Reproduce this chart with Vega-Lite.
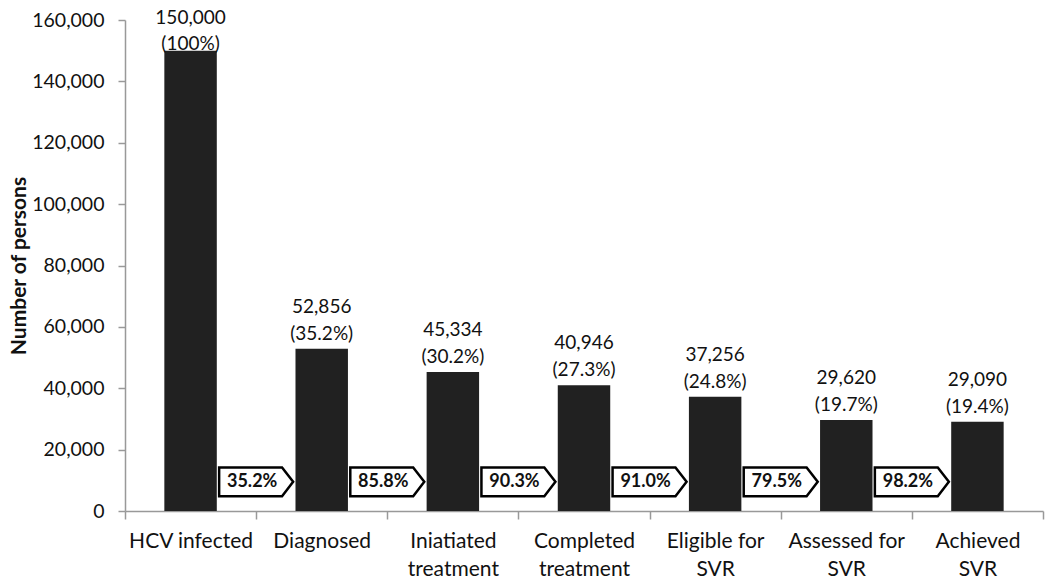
{
  "$schema": "https://vega.github.io/schema/vega-lite/v6.json",
  "autosize": "none",
  "width": 918,
  "height": 491,
  "padding": {"left": 125, "top": 20, "right": 7, "bottom": 73},
  "background": "white",
  "config": {"view": {"stroke": null}, "font": "Lato"},
  "datasets": {
    "bars": [
      {"stage": "HCV infected", "n": 150000, "label": "150,000|(100%)"},
      {"stage": "Diagnosed", "n": 52856, "label": "52,856|(35.2%)"},
      {"stage": "Iniatiated|treatment", "n": 45334, "label": "45,334|(30.2%)"},
      {"stage": "Completed|treatment", "n": 40946, "label": "40,946|(27.3%)"},
      {"stage": "Eligible for|SVR", "n": 37256, "label": "37,256|(24.8%)"},
      {"stage": "Assessed for|SVR", "n": 29620, "label": "29,620|(19.7%)"},
      {"stage": "Achieved|SVR", "n": 29090, "label": "29,090|(19.4%)"}
    ],
    "steps": [
      {"to": "Diagnosed", "pct": "35.2%", "y": 9500},
      {"to": "Iniatiated|treatment", "pct": "85.8%", "y": 9500},
      {"to": "Completed|treatment", "pct": "90.3%", "y": 9500},
      {"to": "Eligible for|SVR", "pct": "91.0%", "y": 9500},
      {"to": "Assessed for|SVR", "pct": "79.5%", "y": 9500},
      {"to": "Achieved|SVR", "pct": "98.2%", "y": 9500}
    ]
  },
  "layer": [
    {
      "data": {"name": "bars"},
      "mark": {"type": "bar", "color": "#212121", "width": {"band": 0.4}},
      "encoding": {
        "x": {
          "field": "stage", "type": "nominal", "sort": null,
          "scale": {"paddingInner": 0, "paddingOuter": 0},
          "axis": {
            "title": null, "labelAngle": 0, "labelExpr": "datum.value ? split(datum.value, '|') : ''",
            "labelFontSize": 21, "labelColor": "#111", "labelPadding": 11, "labelLineHeight": 28,
            "labelBaseline": "top",
            "tickBand": "extent", "tickSize": 8, "tickColor": "#999", "domainColor": "#999", "domainWidth": 1.5, "tickWidth": 1.5
          }
        },
        "y": {
          "field": "n", "type": "quantitative",
          "scale": {"domain": [0, 160000], "nice": false},
          "axis": {
            "title": "Number of persons", "titleFontSize": 21, "titleFontWeight": "bold", "titleColor": "#111",
            "titlePadding": 2,
            "values": [0, 20000, 40000, 60000, 80000, 100000, 120000, 140000, 160000],
            "format": ",d", "labelFontSize": 19.5, "labelColor": "#111", "labelPadding": 14,
            "grid": false, "tickSize": 7, "tickColor": "#999", "domainColor": "#999", "domainWidth": 1.5, "tickWidth": 1.5
          }
        }
      }
    },
    {
      "data": {"name": "bars"},
      "transform": [{"filter": "datum.n < 100000"}],
      "mark": {"type": "text", "baseline": "bottom", "dy": -32, "fontSize": 19, "lineHeight": 27, "color": "#111", "lineBreak": "|"},
      "encoding": {
        "x": {"field": "stage", "type": "nominal", "sort": null},
        "y": {"field": "n", "type": "quantitative"},
        "text": {"field": "label"}
      }
    },
    {
      "data": {"name": "bars"},
      "transform": [{"filter": "datum.n >= 100000"}],
      "mark": {"type": "text", "baseline": "bottom", "dy": -23, "fontSize": 19, "lineHeight": 26, "color": "#111", "lineBreak": "|"},
      "encoding": {
        "x": {"field": "stage", "type": "nominal", "sort": null},
        "y": {"field": "n", "type": "quantitative"},
        "text": {"field": "label"}
      }
    },
    {
      "data": {"name": "steps"},
      "mark": {
        "type": "point", "filled": false, "fill": "white", "fillOpacity": 1,
        "stroke": "black", "strokeWidth": 2.5, "opacity": 1, "size": 5476,
        "shape": "M-1,-0.39L0.7,-0.39L1,0L0.7,0.39L-1,0.39Z"
      },
      "encoding": {
        "x": {"field": "to", "type": "nominal", "sort": null, "bandPosition": 0},
        "y": {"field": "y", "type": "quantitative"}
      }
    },
    {
      "data": {"name": "steps"},
      "mark": {"type": "text", "fontSize": 18, "fontWeight": "bold", "color": "#111", "dx": -4, "baseline": "middle"},
      "encoding": {
        "x": {"field": "to", "type": "nominal", "sort": null, "bandPosition": 0},
        "y": {"field": "y", "type": "quantitative"},
        "text": {"field": "pct"}
      }
    }
  ]
}
